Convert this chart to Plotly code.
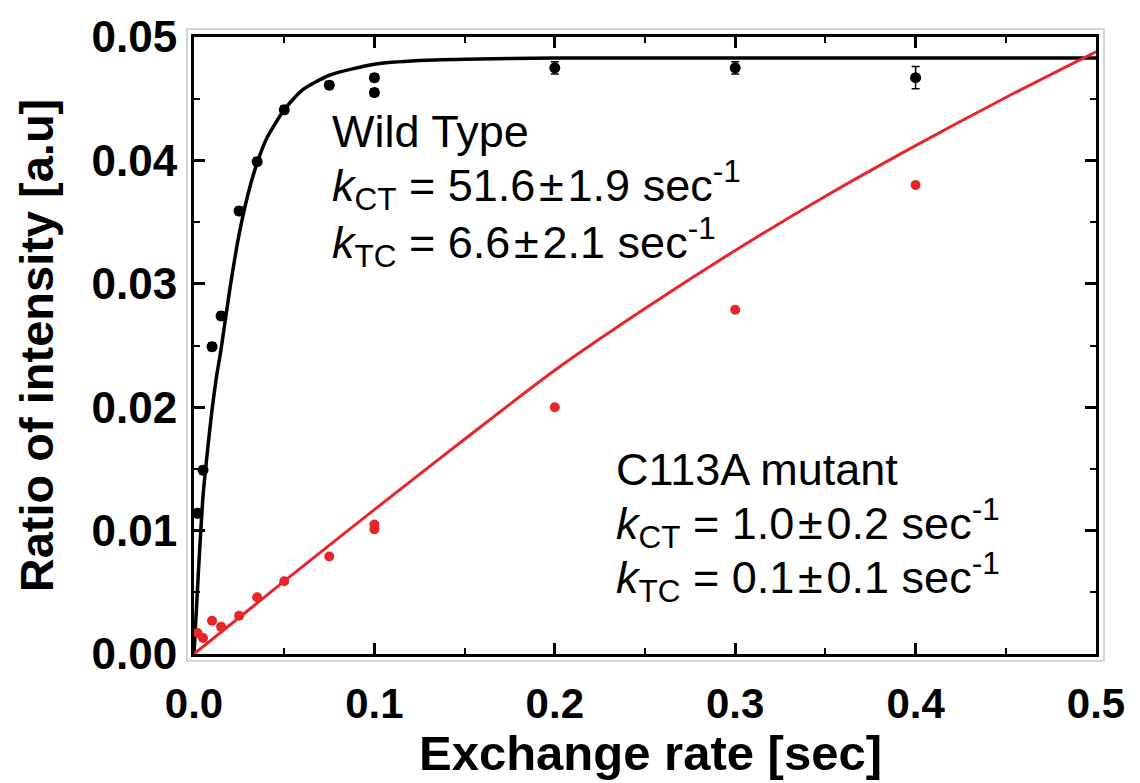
import plotly.graph_objects as go

# ---- data ----
wt_x = [0.002, 0.005, 0.01, 0.015, 0.025, 0.035, 0.05, 0.075, 0.1, 0.1, 0.2, 0.3, 0.4]
wt_y = [0.0114, 0.0149, 0.0249, 0.0274, 0.0359, 0.0399, 0.0441, 0.0461, 0.0467, 0.0455, 0.0475, 0.0475, 0.0467]
wt_err = [0.0003, 0.0003, 0.0003, 0.0003, 0.0003, 0.0003, 0.0003, 0.0003, 0.0003, 0.0003, 0.0005, 0.0005, 0.0009]

mut_x = [0.002, 0.005, 0.01, 0.015, 0.025, 0.035, 0.05, 0.075, 0.1, 0.1, 0.2, 0.3, 0.4]
mut_y = [0.0017, 0.0013, 0.0027, 0.0022, 0.0031, 0.0046, 0.0059, 0.0079, 0.0105, 0.0101, 0.0200, 0.0279, 0.0380]

# fitted curves
wt_fit_x = [0, 0.0025, 0.005, 0.0075, 0.01, 0.0125, 0.015, 0.02, 0.025, 0.03, 0.035, 0.04,
            0.05, 0.06, 0.075, 0.1, 0.125, 0.15, 0.2, 0.3, 0.4, 0.5]
wt_fit_y = [0, 0.0068, 0.0128, 0.0165, 0.0198, 0.0225, 0.0247, 0.0297, 0.0340, 0.0373, 0.0398, 0.0417,
            0.0441, 0.0457, 0.0469, 0.0478, 0.0481, 0.0482, 0.0483, 0.0483, 0.0483, 0.0483]

mut_fit_x = [0, 0.05, 0.1, 0.15, 0.2, 0.25, 0.3, 0.35, 0.4, 0.45, 0.5]
mut_fit_y = [0, 0.0059, 0.0117, 0.0174, 0.0230, 0.0280, 0.0327, 0.0371, 0.0412, 0.0451, 0.0488]

x_title = "Exchange rate [sec]"
y_title = "Ratio of intensity [a.u]"

PM = "\u200a\u00b1\u200a"
wt_lines = ["Wild Type",
            "<i>k</i><sub>CT</sub> = 51.6" + PM + "1.9 sec<sup>-1</sup>",
            "<i>k</i><sub>TC</sub> = 6.6" + PM + "2.1 sec<sup>-1</sup>"]
mut_lines = ["C113A mutant",
             "<i>k</i><sub>CT</sub> = 1.0" + PM + "0.2 sec<sup>-1</sup>",
             "<i>k</i><sub>TC</sub> = 0.1" + PM + "0.1 sec<sup>-1</sup>"]

RED = "rgb(232,38,42)"
FAM = "Liberation Sans, Arial, sans-serif"

fig = go.Figure()
fig.add_trace(go.Scatter(x=wt_fit_x, y=wt_fit_y, mode="lines",
                         line=dict(color="black", width=3.5, shape="spline", smoothing=0.6),
                         showlegend=False, hoverinfo="skip"))
fig.add_trace(go.Scatter(x=mut_fit_x, y=mut_fit_y, mode="lines",
                         line=dict(color=RED, width=3, shape="spline", smoothing=0.8),
                         showlegend=False, hoverinfo="skip", cliponaxis=False))
fig.add_trace(go.Scatter(x=wt_x, y=wt_y, mode="markers",
                         marker=dict(color="black", size=11),
                         error_y=dict(type="data", array=wt_err, color="black", thickness=1.5, width=4),
                         showlegend=False))
fig.add_trace(go.Scatter(x=mut_x, y=mut_y, mode="markers",
                         marker=dict(color=RED, size=10),
                         showlegend=False))

# plot area in pixels: x 194..1096, y 30..654
L, R, T, B = 194, 1096, 30, 654
def px(xp):
    return (xp - L) / (R - L)
def py(yp):
    return (B - yp) / (B - T)

FONT_TXT = dict(family=FAM, size=45, color="black")
ann = []
for t, yb in zip(wt_lines, [142, 196, 253]):
    ann.append(dict(x=px(330), y=py(yb - 16), xref="paper", yref="paper", text=t,
                    showarrow=False, xanchor="left", yanchor="middle", align="left", font=FONT_TXT))
for t, yb in zip(mut_lines, [483, 538, 592]):
    ann.append(dict(x=px(614), y=py(yb - 16), xref="paper", yref="paper", text=t,
                    showarrow=False, xanchor="left", yanchor="middle", align="left", font=FONT_TXT))
# x-axis title
ann.append(dict(x=px(650), y=py(754), xref="paper", yref="paper", text="<b>" + x_title + "</b>",
                showarrow=False, xanchor="center", yanchor="middle", borderpad=0,
                font=dict(family=FAM, size=49, color="black")))

fig.update_layout(
    width=1140, height=783,
    margin=dict(l=L, r=1140 - R, t=T, b=783 - B),
    paper_bgcolor="white", plot_bgcolor="white",
    annotations=ann,
    shapes=[dict(type="rect", xref="paper", yref="paper",
                 x0=px(187), x1=px(1104), y0=py(661), y1=py(22),
                 line=dict(color="rgb(200,200,200)", width=1.5), layer="below")],
    font=dict(family=FAM, size=20, color="black"),
)
fig.update_xaxes(range=[0, 0.5], dtick=0.1, tickformat=".1f", showgrid=False, zeroline=False,
                 showline=True, linecolor="black", linewidth=3, mirror="allticks",
                 ticks="inside", ticklen=11, tickwidth=2.5, tickcolor="black",
                 minor=dict(dtick=0.05, ticks="inside", ticklen=6, tickwidth=2, tickcolor="black"),
                 tickfont=dict(family=FAM, size=42, color="black", weight="bold"),
                 ticklabelstandoff=11)
fig.update_yaxes(range=[0, 0.05], dtick=0.01, tickformat=".2f", showgrid=False, zeroline=False,
                 showline=True, linecolor="black", linewidth=3, mirror="allticks",
                 ticks="inside", ticklen=11, tickwidth=2.5, tickcolor="black",
                 minor=dict(dtick=0.005, ticks="inside", ticklen=6, tickwidth=2, tickcolor="black"),
                 tickfont=dict(family=FAM, size=44, color="black", weight="bold"),
                 ticklabelstandoff=5,
                 title=dict(text=y_title, standoff=24,
                            font=dict(family=FAM, size=47, color="black", weight="bold")))

fig.write_html("out.html")
